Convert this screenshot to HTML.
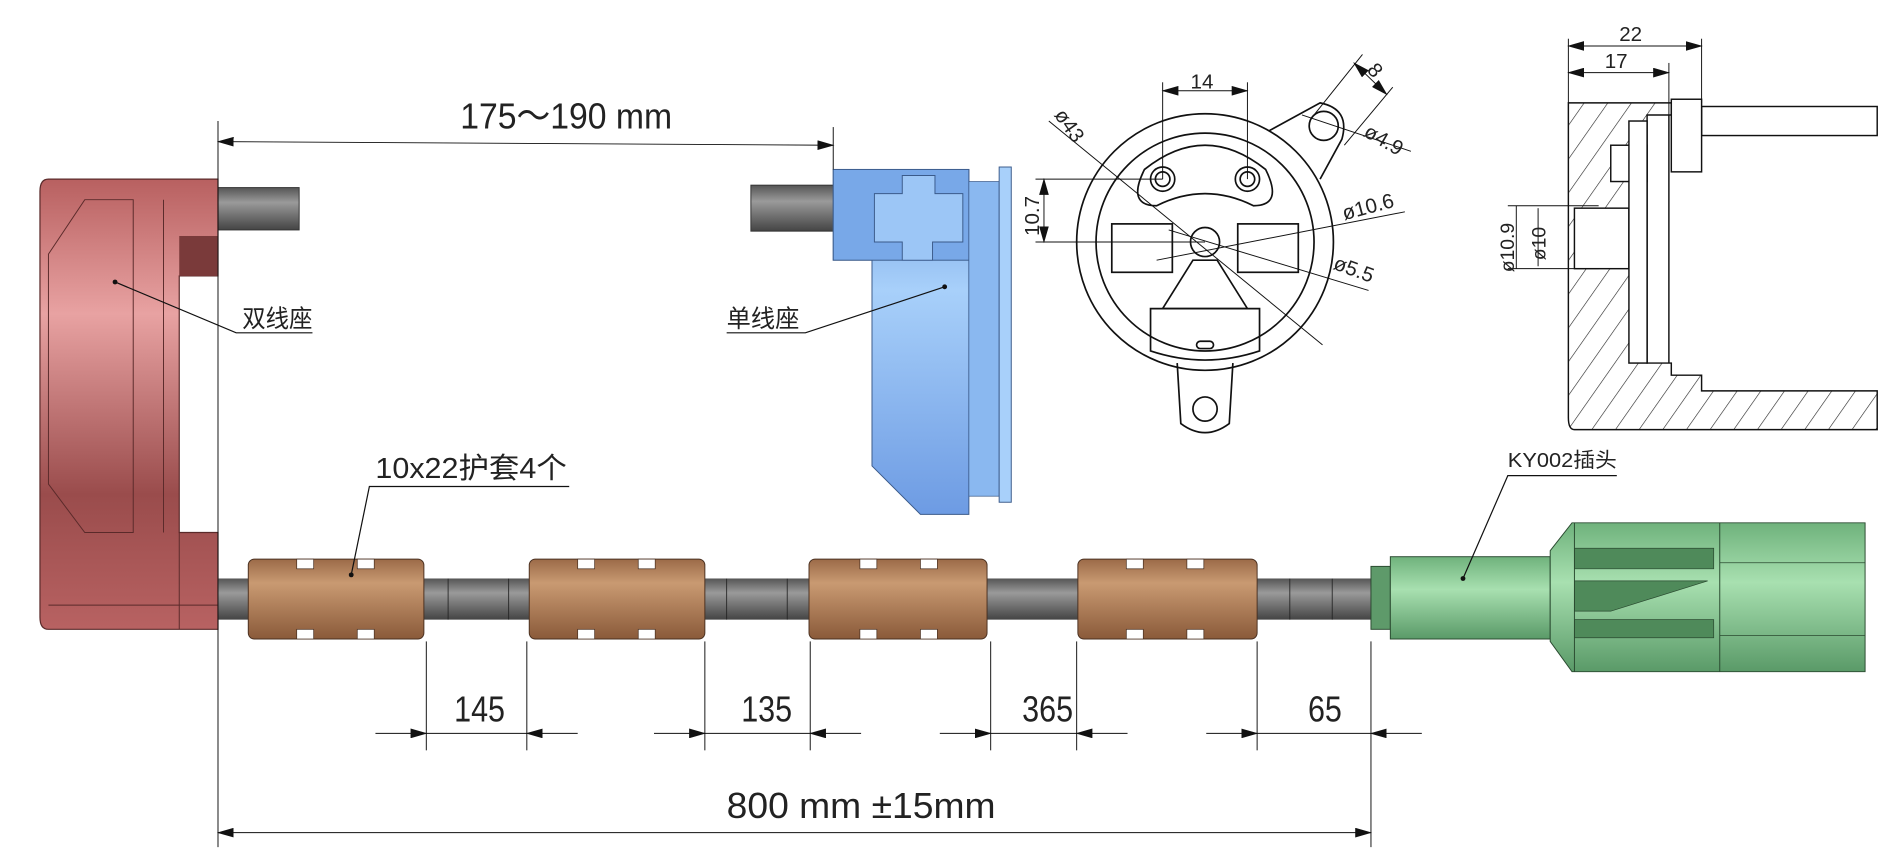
<!DOCTYPE html>
<html><head><meta charset="utf-8"><style>
html,body{margin:0;padding:0;background:#fff;width:1899px;height:852px;overflow:hidden}
svg{display:block}
text{font-family:"Liberation Sans","Noto Sans CJK SC",sans-serif;fill:#222}
</style></head><body>
<svg width="1899" height="852" viewBox="0 0 1568 704" preserveAspectRatio="none">
<defs>
<linearGradient id="red" x1="0" y1="0" x2="0" y2="1"><stop offset="0" stop-color="#b86060"/><stop offset="0.3" stop-color="#e8a2a2"/><stop offset="0.7" stop-color="#9a4c4c"/><stop offset="1" stop-color="#b86262"/></linearGradient>
<linearGradient id="blue" x1="0" y1="0" x2="0" y2="1"><stop offset="0" stop-color="#6f9ee0"/><stop offset="0.35" stop-color="#a8d0fa"/><stop offset="1" stop-color="#6d9be3"/></linearGradient>
<linearGradient id="brown" x1="0" y1="0" x2="0" y2="1"><stop offset="0" stop-color="#9b6a48"/><stop offset="0.3" stop-color="#c99a72"/><stop offset="1" stop-color="#8a5a3a"/></linearGradient>
<linearGradient id="gray" x1="0" y1="0" x2="0" y2="1"><stop offset="0" stop-color="#555"/><stop offset="0.35" stop-color="#9a9a9a"/><stop offset="1" stop-color="#444"/></linearGradient>
<linearGradient id="green" x1="0" y1="0" x2="0" y2="1"><stop offset="0" stop-color="#6fb27c"/><stop offset="0.4" stop-color="#a8e0b0"/><stop offset="1" stop-color="#5a9a68"/></linearGradient>
<pattern id="hatch" width="16" height="16" patternUnits="userSpaceOnUse" patternTransform="rotate(35)"><line x1="0" y1="0" x2="0" y2="16" stroke="#222" stroke-width="1"/></pattern>
<marker id="ar" markerWidth="14" markerHeight="8" refX="13" refY="4" orient="auto" markerUnits="userSpaceOnUse"><path d="M0,0 L14,4 L0,8 z" fill="#111"/></marker>
<marker id="al" markerWidth="14" markerHeight="8" refX="1" refY="4" orient="auto" markerUnits="userSpaceOnUse"><path d="M14,0 L0,4 L14,8 z" fill="#111"/></marker>
</defs>

<!-- Red double seat -->
<rect x="180" y="155" width="67" height="35" fill="url(#gray)" stroke="#333" stroke-width="0.8"/>
<path d="M40,148 H180 V228 H148 V440 H180 V520 H40 Q33,520 33,510 V158 Q33,148 40,148z" fill="url(#red)" stroke="#5a2a2a" stroke-width="1"/>
<path d="M40,210 L70,165 H110 V440 H70 L40,400z" fill="none" stroke="#5a2a2a" stroke-width="0.8"/>
<line x1="135" y1="165" x2="135" y2="440" stroke="#5a2a2a" stroke-width="0.8"/>
<rect x="148" y="195" width="32" height="33" fill="#7a3a3a"/>
<line x1="40" y1="500" x2="180" y2="500" stroke="#5a2a2a" stroke-width="0.8"/>
<line x1="148" y1="440" x2="148" y2="520" stroke="#5a2a2a" stroke-width="0.8"/>

<!-- cable -->
<rect x="180" y="478" width="955" height="34" fill="url(#gray)"/>
<g stroke="#222" stroke-width="0.7"><line x1="370" y1="478" x2="370" y2="512"/><line x1="420" y1="478" x2="420" y2="512"/><line x1="600" y1="478" x2="600" y2="512"/><line x1="650" y1="478" x2="650" y2="512"/><line x1="1065" y1="478" x2="1065" y2="512"/><line x1="1100" y1="478" x2="1100" y2="512"/></g>

<!-- sleeves -->
<g stroke="#4a3020" stroke-width="0.8" fill="url(#brown)">
<rect x="205" y="462" width="145" height="66" rx="5"/>
<rect x="437" y="462" width="145" height="66" rx="5"/>
<rect x="668" y="462" width="147" height="66" rx="5"/>
<rect x="890" y="462" width="148" height="66" rx="5"/>
</g>
<g fill="#fff" stroke="#4a3020" stroke-width="0.6">
<rect x="245" y="462" width="14" height="8"/><rect x="295" y="462" width="14" height="8"/><rect x="245" y="520" width="14" height="8"/><rect x="295" y="520" width="14" height="8"/>
<rect x="477" y="462" width="14" height="8"/><rect x="527" y="462" width="14" height="8"/><rect x="477" y="520" width="14" height="8"/><rect x="527" y="520" width="14" height="8"/>
<rect x="710" y="462" width="14" height="8"/><rect x="760" y="462" width="14" height="8"/><rect x="710" y="520" width="14" height="8"/><rect x="760" y="520" width="14" height="8"/>
<rect x="930" y="462" width="14" height="8"/><rect x="980" y="462" width="14" height="8"/><rect x="930" y="520" width="14" height="8"/><rect x="980" y="520" width="14" height="8"/>
</g>

<!-- green plug -->
<rect x="1132" y="468" width="16" height="52" fill="#5e9a6a" stroke="#2a4a30" stroke-width="0.8"/>
<rect x="1148" y="460" width="132" height="68" fill="url(#green)" stroke="#2a4a30" stroke-width="0.8"/>
<path d="M1280,455 L1298,432 H1540 V555 H1298 L1280,530z" fill="url(#green)" stroke="#2a4a30" stroke-width="0.8"/>
<g fill="#4f8a5a" stroke="#2a4a30" stroke-width="0.6">
<path d="M1300,453 H1415 V470 H1300z"/><path d="M1300,480 H1410 L1330,505 H1300z"/><path d="M1300,512 H1415 V527 H1300z"/>
</g>
<line x1="1300" y1="432" x2="1300" y2="555" stroke="#2a4a30" stroke-width="0.8"/>
<line x1="1420" y1="432" x2="1420" y2="555" stroke="#2a4a30" stroke-width="0.8"/>
<line x1="1420" y1="465" x2="1540" y2="465" stroke="#2a4a30" stroke-width="0.6"/>
<line x1="1420" y1="525" x2="1540" y2="525" stroke="#2a4a30" stroke-width="0.6"/>

<!-- blue single seat -->
<rect x="620" y="153" width="70" height="38" fill="url(#gray)" stroke="#333" stroke-width="0.8"/>
<path d="M688,140 H800 V425 H760 L720,385 V215 H688z" fill="url(#blue)" stroke="#3a5a8a" stroke-width="0.8"/>
<rect x="688" y="140" width="112" height="75" fill="#78a8e8" stroke="#3a5a8a" stroke-width="0.8"/>
<path d="M722,160 H745 V145 H772 V160 H795 V200 H770 V215 H745 V200 H722z" fill="#9cc6f6" stroke="#3a5a8a" stroke-width="0.8"/>
<rect x="800" y="150" width="25" height="260" fill="#8ab8f0" stroke="#3a5a8a" stroke-width="0.6"/>
<rect x="825" y="138" width="10" height="277" fill="#a8d0fa" stroke="#3a5a8a" stroke-width="0.8"/>

<!-- leaders -->
<g stroke="#111" stroke-width="1" fill="none">
<polyline points="95,233 195,275 258,275"/>
<polyline points="780,237 665,275 600,275"/>
<polyline points="290,475 305,402 470,402"/>
<polyline points="1208,478 1245,393 1335,393"/>
</g>
<circle cx="95" cy="233" r="2" fill="#111"/><circle cx="780" cy="237" r="2" fill="#111"/><circle cx="290" cy="475" r="2" fill="#111"/><circle cx="1208" cy="478" r="2" fill="#111"/>
<text x="200" y="270" font-size="20" textLength="58" lengthAdjust="spacingAndGlyphs">双线座</text>
<text x="600" y="270" font-size="20" textLength="60" lengthAdjust="spacingAndGlyphs">单线座</text>
<text x="310" y="395" font-size="24" textLength="158" lengthAdjust="spacingAndGlyphs">10x22护套4个</text>
<text x="1245" y="386" font-size="17" textLength="90" lengthAdjust="spacingAndGlyphs">KY002插头</text>

<!-- dimensions -->
<g stroke="#111" stroke-width="0.8">
<line x1="180" y1="100" x2="180" y2="700"/>
<line x1="688" y1="105" x2="688" y2="140"/>
<line x1="1132" y1="530" x2="1132" y2="700"/>
<line x1="352" y1="530" x2="352" y2="620"/><line x1="435" y1="530" x2="435" y2="620"/>
<line x1="582" y1="530" x2="582" y2="620"/><line x1="669" y1="530" x2="669" y2="620"/>
<line x1="818" y1="530" x2="818" y2="620"/><line x1="889" y1="530" x2="889" y2="620"/>
<line x1="1038" y1="530" x2="1038" y2="620"/>
<line x1="180" y1="117" x2="688" y2="120" marker-start="url(#al)" marker-end="url(#ar)"/>
<line x1="180" y1="688" x2="1132" y2="688" marker-start="url(#al)" marker-end="url(#ar)"/>
<line x1="310" y1="606" x2="352" y2="606" marker-end="url(#ar)"/><line x1="352" y1="606" x2="435" y2="606"/><line x1="477" y1="606" x2="435" y2="606" marker-end="url(#ar)"/>
<line x1="540" y1="606" x2="582" y2="606" marker-end="url(#ar)"/><line x1="582" y1="606" x2="669" y2="606"/><line x1="711" y1="606" x2="669" y2="606" marker-end="url(#ar)"/>
<line x1="776" y1="606" x2="818" y2="606" marker-end="url(#ar)"/><line x1="818" y1="606" x2="889" y2="606"/><line x1="931" y1="606" x2="889" y2="606" marker-end="url(#ar)"/>
<line x1="996" y1="606" x2="1038" y2="606" marker-end="url(#ar)"/><line x1="1038" y1="606" x2="1132" y2="606"/><line x1="1174" y1="606" x2="1132" y2="606" marker-end="url(#ar)"/>
</g>
<text x="380" y="106" font-size="30" textLength="175" lengthAdjust="spacingAndGlyphs">175～190  mm</text>
<text x="375" y="596" font-size="30" textLength="42" lengthAdjust="spacingAndGlyphs">145</text>
<text x="612" y="596" font-size="30" textLength="42" lengthAdjust="spacingAndGlyphs">135</text>
<text x="844" y="596" font-size="30" textLength="42" lengthAdjust="spacingAndGlyphs">365</text>
<text x="1080" y="596" font-size="30" textLength="28" lengthAdjust="spacingAndGlyphs">65</text>
<text x="600" y="676" font-size="30" textLength="222" lengthAdjust="spacingAndGlyphs">800  mm ±15mm</text>

<!-- front view circle -->
<g stroke="#111" stroke-width="1.4" fill="none">
<path d="M1048,108 L1090,85 Q1115,90 1108,115 L1090,148"/>
<circle cx="1093" cy="104" r="12"/>
<circle cx="995" cy="200" r="106" fill="#fff"/>
<circle cx="995" cy="200" r="90"/>
<path d="M945,140 Q995,100 1045,140 Q1060,170 1035,170 Q995,150 955,170 Q930,170 945,140z"/>
<circle cx="960" cy="148" r="10"/><circle cx="960" cy="148" r="6"/>
<circle cx="1030" cy="148" r="10"/><circle cx="1030" cy="148" r="6"/>
<circle cx="995" cy="200" r="12"/>
<rect x="918" y="185" width="50" height="40"/><rect x="1022" y="185" width="50" height="40"/>
<path d="M960,255 L985,215 H1005 L1030,255 Z"/>
<path d="M950,255 H1040 V290 Q995,305 950,290z"/>
<rect x="988" y="282" width="14" height="6" rx="3"/>
<path d="M972,300 L975,350 Q995,365 1015,350 L1018,300"/>
<circle cx="995" cy="338" r="10"/>
</g>
<g stroke="#111" stroke-width="0.8">
<line x1="960" y1="68" x2="960" y2="148"/><line x1="1030" y1="68" x2="1030" y2="148"/>
<line x1="960" y1="75" x2="1030" y2="75" marker-start="url(#al)" marker-end="url(#ar)"/>
<line x1="855" y1="148" x2="960" y2="148"/><line x1="855" y1="200" x2="995" y2="200"/>
<line x1="862" y1="148" x2="862" y2="200" marker-start="url(#al)" marker-end="url(#ar)"/>
<line x1="866" y1="100" x2="1092" y2="285"/>
<line x1="955" y1="215" x2="1160" y2="175"/>
<line x1="965" y1="190" x2="1130" y2="240"/>
<line x1="1075" y1="95" x2="1165" y2="125"/>
<line x1="1085" y1="95" x2="1125" y2="45"/><line x1="1110" y1="120" x2="1150" y2="72"/>
<line x1="1118" y1="52" x2="1145" y2="78" marker-start="url(#al)" marker-end="url(#ar)"/>
</g>
<text x="983" y="73" font-size="17">14</text>
<text transform="translate(870,95) rotate(55)" font-size="17">ø43</text>
<text transform="translate(1128,58) rotate(50)" font-size="17">8</text>
<text transform="translate(1125,112) rotate(30)" font-size="17">ø4.9</text>
<text transform="translate(1110,182) rotate(-15)" font-size="17">ø10.6</text>
<text transform="translate(1100,222) rotate(20)" font-size="17">ø5.5</text>
<text transform="translate(858,195) rotate(-90)" font-size="17">10.7</text>

<!-- section view -->
<g stroke="#111" stroke-width="1.2">
<rect x="1405" y="88" width="145" height="24" fill="#fff"/>
<path d="M1295,85 H1380 V95 H1360 V300 H1380 V310 H1405 V323 H1550 V355 H1300 Q1295,355 1295,345z" fill="url(#hatch)"/>
<rect x="1300" y="172" width="45" height="50" fill="#fff"/>
<rect x="1330" y="120" width="30" height="30" fill="#fff"/>
<rect x="1345" y="100" width="15" height="200" fill="#fff"/>
<rect x="1380" y="82" width="25" height="60" fill="#fff"/>
<line x1="1378" y1="95" x2="1378" y2="300" fill="none"/>
</g>
<g stroke="#111" stroke-width="0.8">
<line x1="1295" y1="32" x2="1295" y2="85"/><line x1="1405" y1="32" x2="1405" y2="85"/><line x1="1378" y1="52" x2="1378" y2="95"/>
<line x1="1295" y1="38" x2="1405" y2="38" marker-start="url(#al)" marker-end="url(#ar)"/>
<line x1="1295" y1="60" x2="1378" y2="60" marker-start="url(#al)" marker-end="url(#ar)"/>
<line x1="1245" y1="170" x2="1320" y2="170"/><line x1="1245" y1="222" x2="1320" y2="222"/>
<line x1="1252" y1="170" x2="1252" y2="222"/><line x1="1270" y1="172" x2="1270" y2="220"/>
</g>
<text x="1337" y="34" font-size="17">22</text>
<text x="1325" y="56" font-size="17">17</text>
<text transform="translate(1250,225) rotate(-90)" font-size="16">ø10.9</text>
<text transform="translate(1276,215) rotate(-90)" font-size="16">ø10</text>
</svg>
</body></html>
